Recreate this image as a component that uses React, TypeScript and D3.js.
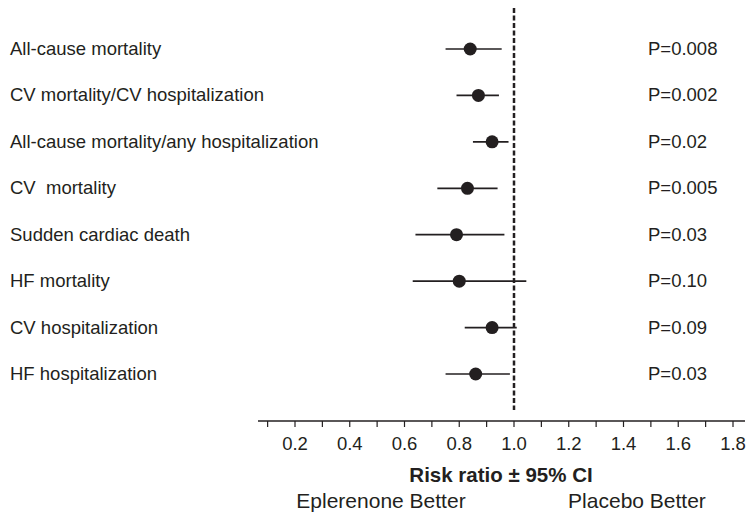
import React, { useEffect, useRef } from 'react'
import * as d3 from 'd3'

const outcomes = [
  'All-cause mortality',
  'CV mortality/CV hospitalization',
  'All-cause mortality/any hospitalization',
  'CV  mortality',
  'Sudden cardiac death',
  'HF mortality',
  'CV hospitalization',
  'HF hospitalization',
]
const riskRatio = [0.84, 0.87, 0.92, 0.83, 0.79, 0.80, 0.92, 0.86]
const ciLow = [0.75, 0.79, 0.85, 0.72, 0.64, 0.63, 0.82, 0.75]
const ciHigh = [0.955, 0.945, 0.98, 0.94, 0.965, 1.045, 1.01, 0.985]
const pValues = ['P=0.008', 'P=0.002', 'P=0.02', 'P=0.005', 'P=0.03', 'P=0.10', 'P=0.09', 'P=0.03']
const tickLabels = [0.2, 0.4, 0.6, 0.8, 1.0, 1.2, 1.4, 1.6, 1.8]
const minorTicks = d3.range(1, 19).map(d => d / 10)

const W = 747
const H = 516
const FONT = 'Arial, "Liberation Sans", sans-serif'

export default function App() {
  const ref = useRef<SVGSVGElement | null>(null)

  useEffect(() => {
    const svg = d3.select(ref.current)
    svg.selectAll('*').remove()

    const x = d3.scaleLinear().domain([0.2, 1.0]).range([295, 514])
    const y = d3.scalePoint<string>().domain(outcomes).range([49, 374])

    const axisY = 421

    // axis line + ticks hanging below
    svg.append('line')
      .attr('x1', 258).attr('x2', 745)
      .attr('y1', axisY).attr('y2', axisY)
      .attr('stroke', '#231f20').attr('stroke-width', 1.3)

    svg.append('g').selectAll('line').data(minorTicks).join('line')
      .attr('x1', d => x(d)).attr('x2', d => x(d))
      .attr('y1', axisY).attr('y2', axisY + 6)
      .attr('stroke', '#231f20').attr('stroke-width', 1.2)

    svg.append('g').selectAll('text').data(tickLabels).join('text')
      .attr('x', d => x(d)).attr('y', axisY + 29)
      .attr('text-anchor', 'middle')
      .attr('font-size', 18.5).attr('font-family', FONT).attr('fill', '#231f20')
      .text(d => d.toFixed(1))

    // reference line at 1.0
    svg.append('line')
      .attr('x1', x(1)).attr('x2', x(1))
      .attr('y1', 8).attr('y2', 410)
      .attr('stroke', '#231f20').attr('stroke-width', 2.5)
      .attr('stroke-dasharray', '5,2.5')

    const rows = outcomes.map((o, i) => ({ o, rr: riskRatio[i], lo: ciLow[i], hi: ciHigh[i], p: pValues[i] }))

    const g = svg.append('g')
    g.selectAll('line.ci').data(rows).join('line')
      .attr('class', 'ci')
      .attr('x1', d => x(d.lo)).attr('x2', d => x(d.hi))
      .attr('y1', d => y(d.o)!).attr('y2', d => y(d.o)!)
      .attr('stroke', '#231f20').attr('stroke-width', 1.7)

    g.selectAll('circle').data(rows).join('circle')
      .attr('cx', d => x(d.rr)).attr('cy', d => y(d.o)!)
      .attr('r', 6.5).attr('fill', '#231f20')

    g.selectAll('text.lab').data(rows).join('text')
      .attr('class', 'lab')
      .attr('x', 10).attr('y', d => y(d.o)! + 6)
      .attr('font-size', 18.5).attr('font-family', FONT).attr('fill', '#231f20')
      .attr('xml:space', 'preserve')
      .style('white-space', 'pre')
      .text(d => d.o)

    g.selectAll('text.p').data(rows).join('text')
      .attr('class', 'p')
      .attr('x', 648).attr('y', d => y(d.o)! + 6)
      .attr('font-size', 18.5).attr('font-family', FONT).attr('fill', '#231f20')
      .text(d => d.p)

    svg.append('text')
      .attr('x', 501).attr('y', 482)
      .attr('text-anchor', 'middle')
      .attr('font-size', 20.5).attr('font-weight', 'bold')
      .attr('font-family', FONT).attr('fill', '#231f20')
      .text('Risk ratio ± 95% CI')

    svg.append('text')
      .attr('x', 381).attr('y', 508)
      .attr('text-anchor', 'middle')
      .attr('font-size', 21).attr('font-family', FONT).attr('fill', '#231f20')
      .text('Eplerenone Better')

    svg.append('text')
      .attr('x', 637).attr('y', 508)
      .attr('text-anchor', 'middle')
      .attr('font-size', 21).attr('font-family', FONT).attr('fill', '#231f20')
      .text('Placebo Better')
  }, [])

  return (
    <div style={{ position: 'absolute', left: 0, top: 0 }}>
      <svg ref={ref} width={W} height={H} style={{ display: 'block', background: '#fff' }} />
    </div>
  )
}
